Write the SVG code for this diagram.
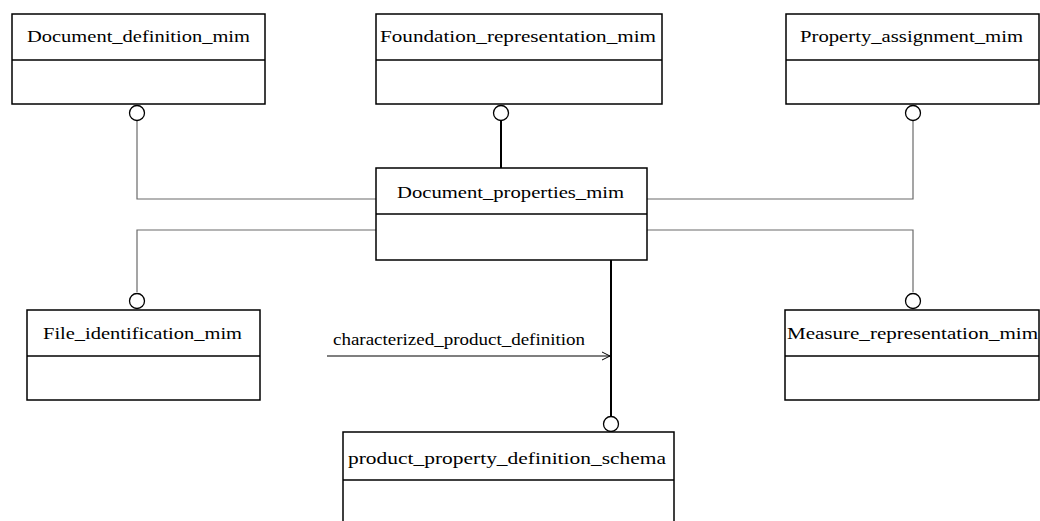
<svg xmlns="http://www.w3.org/2000/svg" width="1040" height="521" viewBox="0 0 1040 521">
<defs>
<style>
.box{fill:#fff;stroke:#000;stroke-width:1.5}
.div{stroke:#000;stroke-width:1.3}
.lbl{font-family:"Liberation Serif","Times New Roman",serif;font-size:16px;fill:#000}
.thin{fill:none;stroke:#6a6a6a;stroke-width:1.2}
.thick{fill:none;stroke:#000;stroke-width:2}
.circ{fill:#fff;stroke:#000;stroke-width:1.3}
</style>
<marker id="arr" markerWidth="10" markerHeight="10" refX="9" refY="5" orient="auto" markerUnits="userSpaceOnUse">
<path d="M1,1 L9,5 L1,9" fill="none" stroke="#000" stroke-width="1"/>
</marker>
</defs>
<rect width="1040" height="521" fill="#fff"/>
<g id="connectors">
<polyline class="thin" points="137,121 137,199 376,199"/>
<line class="thick" x1="501" y1="121" x2="501" y2="168"/>
<polyline class="thin" points="913,121 913,199 647,199"/>
<polyline class="thin" points="376,230 137,230 137,292"/>
<polyline class="thin" points="647,230 913,230 913,292"/>
<line class="thick" x1="611" y1="260" x2="611" y2="416"/>
<line x1="327" y1="356" x2="610" y2="356" stroke="#000" stroke-width="1.2" marker-end="url(#arr)"/>
<text class="lbl" x="333" y="345" textLength="252" lengthAdjust="spacingAndGlyphs">characterized_product_definition</text>
<circle class="circ" cx="137" cy="113" r="7.5"/>
<circle class="circ" cx="501" cy="113" r="7.5"/>
<circle class="circ" cx="913" cy="113" r="7.5"/>
<circle class="circ" cx="137" cy="301" r="7.5"/>
<circle class="circ" cx="913" cy="301" r="7.5"/>
<circle class="circ" cx="611" cy="424" r="7.5"/>
</g>
<g id="document_definition_mim">
<rect class="box" x="12" y="14" width="253" height="90"/>
<line class="div" x1="12" y1="60" x2="265" y2="60"/>
<text class="lbl" x="27" y="42" textLength="223" lengthAdjust="spacingAndGlyphs">Document_definition_mim</text>
</g>
<g id="foundation_representation_mim">
<rect class="box" x="376" y="14" width="286" height="90"/>
<line class="div" x1="376" y1="60" x2="662" y2="60"/>
<text class="lbl" x="380" y="42" textLength="276" lengthAdjust="spacingAndGlyphs">Foundation_representation_mim</text>
</g>
<g id="property_assignment_mim">
<rect class="box" x="786" y="14" width="253" height="90"/>
<line class="div" x1="786" y1="60" x2="1039" y2="60"/>
<text class="lbl" x="800" y="42" textLength="223" lengthAdjust="spacingAndGlyphs">Property_assignment_mim</text>
</g>
<g id="document_properties_mim">
<rect class="box" x="376" y="168" width="271" height="92"/>
<line class="div" x1="376" y1="214" x2="647" y2="214"/>
<text class="lbl" x="397" y="198" textLength="227" lengthAdjust="spacingAndGlyphs">Document_properties_mim</text>
</g>
<g id="file_identification_mim">
<rect class="box" x="27" y="310" width="233" height="90"/>
<line class="div" x1="27" y1="356" x2="260" y2="356"/>
<text class="lbl" x="43" y="339" textLength="199" lengthAdjust="spacingAndGlyphs">File_identification_mim</text>
</g>
<g id="measure_representation_mim">
<rect class="box" x="785" y="310" width="254" height="90"/>
<line class="div" x1="785" y1="356" x2="1039" y2="356"/>
<text class="lbl" x="787" y="339" textLength="251" lengthAdjust="spacingAndGlyphs">Measure_representation_mim</text>
</g>
<g id="product_property_definition_schema">
<rect class="box" x="343" y="432" width="331" height="100"/>
<line class="div" x1="343" y1="480" x2="674" y2="480"/>
<text class="lbl" x="348" y="464" textLength="318" lengthAdjust="spacingAndGlyphs">product_property_definition_schema</text>
</g>
</svg>
